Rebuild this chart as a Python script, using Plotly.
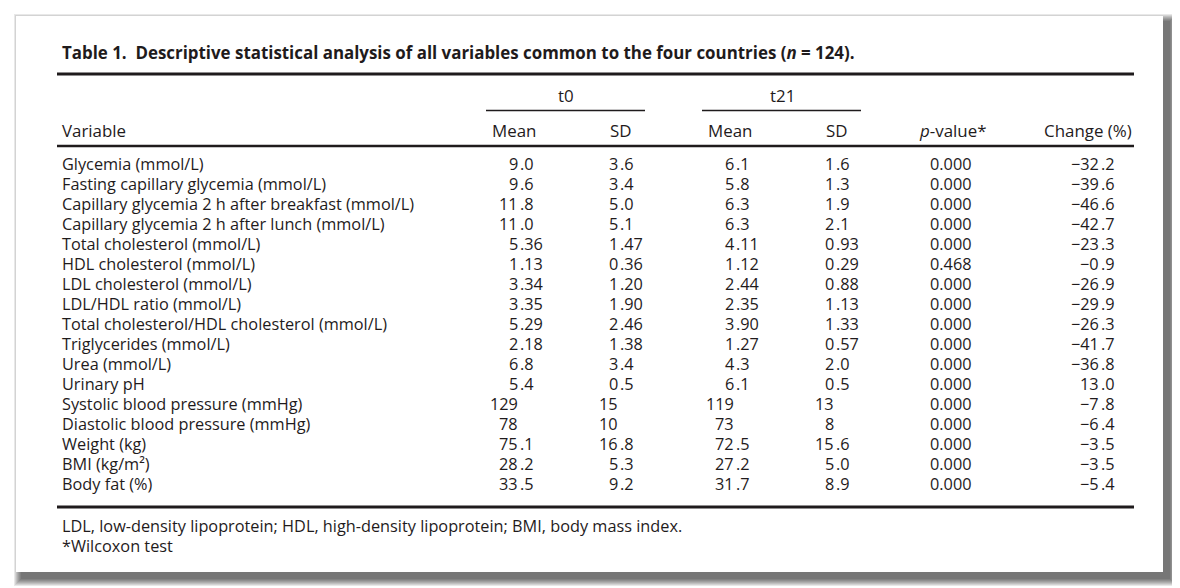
import plotly.graph_objects as go

# table content
variables = [
    "Glycemia (mmol/L)",
    "Fasting capillary glycemia (mmol/L)",
    "Capillary glycemia 2 h after breakfast (mmol/L)",
    "Capillary glycemia 2 h after lunch (mmol/L)",
    "Total cholesterol (mmol/L)",
    "HDL cholesterol (mmol/L)",
    "LDL cholesterol (mmol/L)",
    "LDL/HDL ratio (mmol/L)",
    "Total cholesterol/HDL cholesterol (mmol/L)",
    "Triglycerides (mmol/L)",
    "Urea (mmol/L)",
    "Urinary pH",
    "Systolic blood pressure (mmHg)",
    "Diastolic blood pressure (mmHg)",
    "Weight (kg)",
    "BMI (kg/m²)",
    "Body fat (%)",
]
t0_mean = ["9.0", "9.6", "11.8", "11.0", "5.36", "1.13", "3.34", "3.35", "5.29",
           "2.18", "6.8", "5.4", "129", "78", "75.1", "28.2", "33.5"]
t0_sd = ["3.6", "3.4", "5.0", "5.1", "1.47", "0.36", "1.20", "1.90", "2.46",
         "1.38", "3.4", "0.5", "15", "10", "16.8", "5.3", "9.2"]
t21_mean = ["6.1", "5.8", "6.3", "6.3", "4.11", "1.12", "2.44", "2.35", "3.90",
            "1.27", "4.3", "6.1", "119", "73", "72.5", "27.2", "31.7"]
t21_sd = ["1.6", "1.3", "1.9", "2.1", "0.93", "0.29", "0.88", "1.13", "1.33",
          "0.57", "2.0", "0.5", "13", "8", "15.6", "5.0", "8.9"]
p_values = ["0.000", "0.000", "0.000", "0.000", "0.000", "0.468", "0.000", "0.000",
            "0.000", "0.000", "0.000", "0.000", "0.000", "0.000", "0.000", "0.000", "0.000"]
change = ["−32.2", "−39.6", "−46.6", "−42.7", "−23.3", "−0.9", "−26.9", "−29.9",
          "−26.3", "−41.7", "−36.8", "13.0", "−7.8", "−6.4", "−3.5", "−3.5", "−5.4"]

title = ("<b>Table 1.\u00a0 Descriptive statistical analysis of all variables common "
         "to the four countries (<i>n</i> = 124).</b>")
footnotes = ["LDL, low-density lipoprotein; HDL, high-density lipoprotein; BMI, body mass index.",
             "*Wilcoxon test"]

INK = "#1f1b1c"
FONT = "Open Sans"
FS_NUM = 16.3    # numbers
FS_ROW = 16.3    # row labels, footnotes
FS_HEAD = 16.9   # headers, title

W, H = 1180, 588
OFF = 8  # page body margin
fig = go.Figure()

# card with drop shadow
shapes = []
for s in range(1, 9):
    shapes.append(dict(type="rect", x0=22 - s, y0=22 - s, x1=1169 + s, y1=578 + s,
                       line=dict(width=0), fillcolor="rgba(0,0,0,0.09)", layer="below"))
shapes.append(dict(type="rect", x0=16, y0=16, x1=1163, y1=572,
                   line=dict(width=0), fillcolor="white", layer="below"))

# rules
def hline(y, x0, x1, w):
    shapes.append(dict(type="line", x0=x0, x1=x1, y0=y, y1=y,
                       line=dict(color=INK, width=w)))

hline(74, 57, 1134, 3)
hline(110.5, 486, 645, 1.5)
hline(110.5, 702, 861, 1.5)
hline(146, 57, 1134, 2.5)
hline(507, 57, 1134, 3)

ann = []

def txt(x, y, s, anchor="left", size=FS_ROW):
    ann.append(dict(x=x, y=y, text=s, showarrow=False, xanchor=anchor, yanchor="middle",
                    font=dict(family=FONT, size=size, color=INK), borderpad=0))

txt(61, 52, title, size=FS_HEAD)
txt(566, 95, "t0", "center", FS_HEAD)
txt(782, 95, "t21", "center", FS_HEAD)
txt(61, 130, "Variable", size=FS_HEAD)
for x, s in [(514, "Mean"), (621, "SD"), (730, "Mean"), (837, "SD"), (952, "<i>p</i>-value*")]:
    txt(x, 130, s, "center", FS_HEAD)
txt(1133, 130, "Change (%)", "right", FS_HEAD)

ROW0, STEP = 164, 20


def decimal_col(values, xdec):
    for i, v in enumerate(values):
        y = ROW0 + STEP * i
        if "." in v:
            ip, fp = v.split(".")
            txt(xdec, y, ip, "right", FS_NUM)
            txt(xdec, y, "." + fp, "left", FS_NUM)
        else:
            txt(xdec, y, v, "right", FS_NUM)


for i, v in enumerate(variables):
    txt(61, ROW0 + STEP * i, v)
decimal_col(t0_mean, 519)
decimal_col(t0_sd, 619)
decimal_col(t21_mean, 735)
decimal_col(t21_sd, 835)
for i, v in enumerate(p_values):
    txt(951, ROW0 + STEP * i, v, "center", FS_NUM)
decimal_col(change, 1100)

txt(61, 526, footnotes[0])
txt(61, 546, footnotes[1])

fig.update_layout(
    width=W, height=H, margin=dict(l=0, r=0, t=0, b=0),
    paper_bgcolor="white", plot_bgcolor="white",
    xaxis=dict(range=[OFF, W + OFF], visible=False, fixedrange=True),
    yaxis=dict(range=[H + OFF, OFF], visible=False, fixedrange=True),
    shapes=shapes, annotations=ann, showlegend=False,
)
fig.write_html("out.html")
